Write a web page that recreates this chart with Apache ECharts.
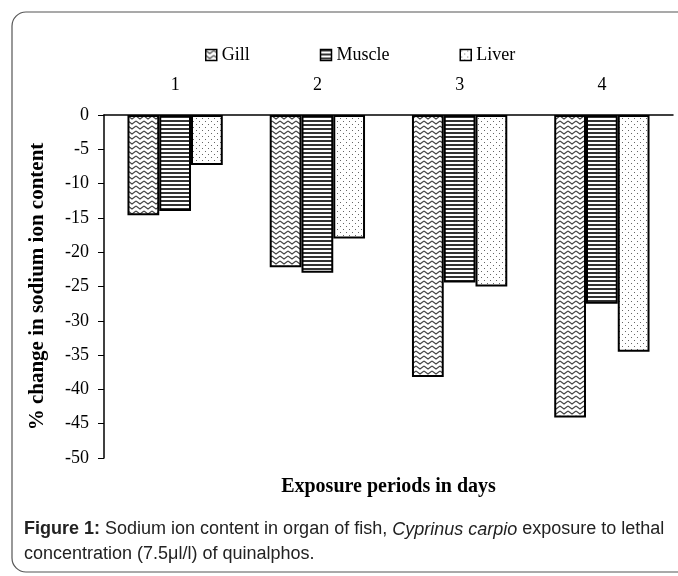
<!DOCTYPE html>
<html>
<head>
<meta charset="utf-8">
<script src="https://cdn.jsdelivr.net/npm/echarts@6/dist/echarts.min.js"></script>
<style>
  html, body { margin: 0; padding: 0; background: #fff; }
  #chart { width: 678px; height: 576px; }
</style>
</head>
<body>
<div id="chart"></div>
<script>
// data
const days = ['1', '2', '3', '4'];
const gill = [-14.6, -22.2, -38.2, -44.1];
const muscle = [-14.0, -23.0, -24.4, -27.5];
const liver = [-7.3, -18.0, -25.0, -34.5];

// hatch fills like the old excel patterns
function makePattern(kind) {
  const c = document.createElement('canvas');
  const ctx = c.getContext('2d');
  if (kind === 'wave') {
    c.width = 8; c.height = 5;
    ctx.fillStyle = '#fff';
    ctx.fillRect(0, 0, 8, 5);
    ctx.strokeStyle = '#444';
    ctx.lineWidth = 1.1;
    ctx.beginPath();
    ctx.moveTo(0, 1);
    ctx.lineTo(4, 4);
    ctx.lineTo(8, 1);
    ctx.stroke();
  } else if (kind === 'stripe') {
    c.width = 4; c.height = 4;
    ctx.fillStyle = '#fff';
    ctx.fillRect(0, 0, 4, 4);
    ctx.fillStyle = '#333';
    ctx.fillRect(0, 0, 4, 2);
  } else {
    c.width = 6; c.height = 6;
    ctx.fillStyle = '#fff';
    ctx.fillRect(0, 0, 6, 6);
    ctx.fillStyle = '#666';
    ctx.fillRect(1, 1, 1, 1);
    ctx.fillRect(4, 4, 1, 1);
  }
  return { image: c, repeat: 'repeat' };
}

const serif = 'Liberation Serif';
const chart = echarts.init(document.getElementById('chart'));

function barSeries(name, values, kind) {
  return {
    name: name,
    type: 'bar',
    data: values,
    barGap: '0%',
    barCategoryGap: '33%',
    itemStyle: {
      color: makePattern(kind),
      borderColor: '#000',
      borderWidth: 2
    },
    emphasis: { disabled: true }
  };
}

chart.setOption({
  animation: false,
  backgroundColor: '#fff',
  graphic: [
    {
      type: 'rect',
      shape: { x: 12, y: 12, width: 700, height: 560, r: 14 },
      style: { fill: 'none', stroke: '#555', lineWidth: 1.2 },
      silent: true
    },
    {
      type: 'text',
      left: 24,
      top: 517,
      style: {
        text: '{b|Figure 1:} Sodium ion content in organ of fish, {i|Cyprinus carpio} exposure to lethal\nconcentration (7.5\u03bcl/l) of quinalphos.',
        font: '18px "Liberation Sans"',
        fill: '#222',
        lineHeight: 25,
        rich: {
          b: { fontWeight: 'bold', fontSize: 18, fontFamily: 'Liberation Sans', fill: '#222', lineHeight: 25 },
          i: { fontStyle: 'italic', fontSize: 18, fontFamily: 'Liberation Sans', fill: '#222', lineHeight: 25 }
        }
      }
    }
  ],
  legend: {
    top: 41,
    left: 200,
    icon: 'rect',
    itemWidth: 11,
    itemHeight: 11,
    itemGap: 70,
    itemStyle: { borderColor: '#000', borderWidth: 1.5 },
    textStyle: { fontFamily: serif, fontSize: 18, color: '#000' },
    data: ['Gill', 'Muscle', 'Liver']
  },
  grid: { left: 104, right: 5, top: 115, bottom: 118 },
  xAxis: {
    type: 'category',
    position: 'top',
    data: days,
    name: 'Exposure periods in days',
    nameLocation: 'middle',
    nameGap: -382,
    nameTextStyle: { fontFamily: serif, fontSize: 20, fontWeight: 'bold', color: '#000' },
    axisLine: { lineStyle: { color: '#000', width: 1.5 } },
    axisTick: { inside: true, length: 6, lineStyle: { color: '#000' } },
    axisLabel: { fontFamily: serif, fontSize: 18, color: '#000', margin: 21 }
  },
  yAxis: {
    type: 'value',
    min: -50,
    max: 0,
    interval: 5,
    name: '% change in sodium ion content',
    nameLocation: 'middle',
    nameGap: 56,
    nameTextStyle: { fontFamily: serif, fontSize: 21, fontWeight: 'bold', color: '#000' },
    axisLine: { show: true, lineStyle: { color: '#000', width: 1.5 } },
    axisTick: { show: true, length: 6, lineStyle: { color: '#000' } },
    axisLabel: { fontFamily: serif, fontSize: 18, color: '#000', margin: 15 },
    splitLine: { show: false }
  },
  series: [
    barSeries('Gill', gill, 'wave'),
    barSeries('Muscle', muscle, 'stripe'),
    barSeries('Liver', liver, 'dots')
  ]
});
</script>
</body>
</html>
